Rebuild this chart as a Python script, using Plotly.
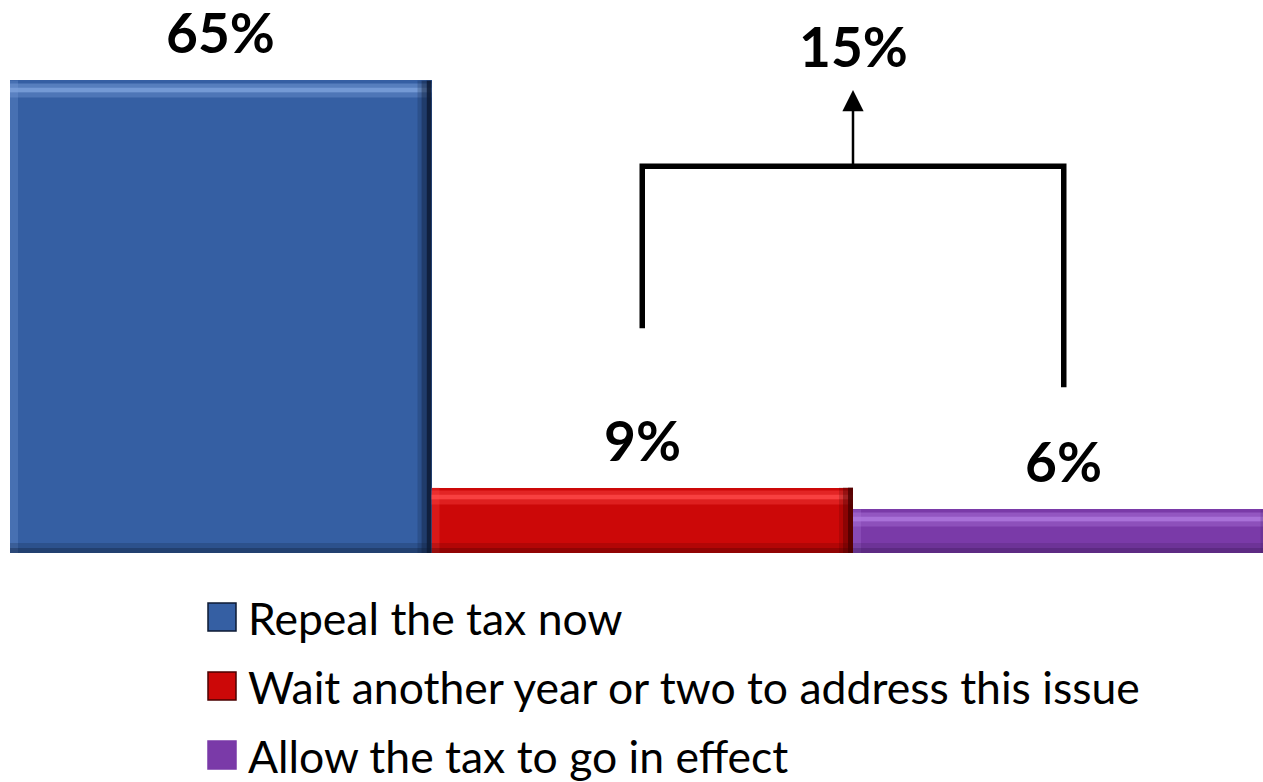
import plotly.graph_objects as go

# ---- data ----
categories = ["Repeal the tax now",
              "Wait another year or two to address this issue",
              "Allow the tax to go in effect"]
values = [65, 9, 6]
value_labels = ["65%", "9%", "6%"]
combined_label = "15%"
colors = ["#355FA3", "#CC0808", "#7A3AA8"]
light_colors = ["#7FA4DE", "#FF4A4A", "#B27BE0"]
dark_colors = ["#0C1A33", "#4A0000", "#3A1856"]

# ---- layout geometry ----
W, H = 1263, 782
ML, MR, MT, MB = 10, 0, 0, 229
PW, PH = W - ML - MR, H - MT - MB
X_RANGE = [-0.5, -0.5 + PW / 421.5]
Y_RANGE = [0, PH / 7.27]

def paper_x(px):
    return (px - ML) / PW

def paper_y(py):
    return (H - MB - py) / PH

fig = go.Figure()
fig.add_trace(go.Bar(
    x=list(range(len(values))), y=values, width=1,
    marker=dict(color=colors, line=dict(width=0)),
    showlegend=False, hoverinfo="skip"))

# bracket grouping bars 2 and 3
BR_LEFT_Y, BR_TOP_Y, BR_RIGHT_Y = 30.9, 53.2, 22.8
ARROW_TIP_Y, COMBINED_Y = 63.7, 69.7
fig.add_shape(type="path", xref="x", yref="y",
              path=f"M 1,{BR_LEFT_Y} L 1,{BR_TOP_Y} L 2,{BR_TOP_Y} L 2,{BR_RIGHT_Y}",
              line=dict(color="black", width=5.5), layer="above")
fig.add_annotation(x=1.5, y=ARROW_TIP_Y, ax=1.5, ay=BR_TOP_Y, xref="x", yref="y",
                   axref="x", ayref="y", showarrow=True, arrowhead=2,
                   arrowsize=1.7, arrowwidth=2.5, arrowcolor="black", text="")
fig.add_annotation(x=1.5, y=COMBINED_Y, xref="x", yref="y", text=combined_label,
                   showarrow=False, yanchor="middle",
                   font=dict(family="Lato", size=55, color="black", weight="bold"))

# value labels + bevel effect
for i, (v, lab) in enumerate(zip(values, value_labels)):
    fig.add_annotation(x=i, y=v, xref="x", yref="y", text=lab, showarrow=False,
                       yanchor="middle", yshift=48,
                       font=dict(family="Lato", size=55, color="black", weight="bold"))
    # top highlight bands
    for y0, y1, op in [(-3, -7, 0.45), (-7, -12, 0.85), (-12, -17, 0.35)]:
        fig.add_shape(type="rect", xref="x", yref="y", x0=i - 0.5, x1=i + 0.5,
                      ysizemode="pixel", yanchor=v, y0=y0, y1=y1,
                      fillcolor=light_colors[i], opacity=op, line=dict(width=0), layer="above")
    # left light band
    fig.add_shape(type="rect", xref="x", yref="y", xsizemode="pixel", xanchor=i - 0.5,
                  x0=0, x1=8, y0=0, y1=v, fillcolor=light_colors[i], opacity=0.25,
                  line=dict(width=0), layer="above")
    # bottom dark band
    for y0, y1, op in [(0, 5, 0.45), (5, 10, 0.2)]:
        fig.add_shape(type="rect", xref="x", yref="y", x0=i - 0.5, x1=i + 0.5,
                      ysizemode="pixel", yanchor=0, y0=y0, y1=y1,
                      fillcolor=dark_colors[i], opacity=op, line=dict(width=0), layer="above")
    # right dark band
    for x0, x1, op in [(-14, -10, 0.2), (-10, -5, 0.5), (-5, 0, 0.9)]:
        fig.add_shape(type="rect", xref="x", yref="y", xsizemode="pixel", xanchor=i + 0.5,
                      x0=x0, x1=x1, y0=0, y1=v, fillcolor=dark_colors[i], opacity=op,
                      line=dict(width=0), layer="above")

# custom legend
LEG_SQ_X0, LEG_SQ = 208, 28
LEG_TEXT_X = 246
LEG_Y0, LEG_DY = 617, 69
for i, name in enumerate(categories):
    cy = LEG_Y0 + i * LEG_DY
    fig.add_shape(type="rect", xref="paper", yref="paper",
                  x0=paper_x(LEG_SQ_X0), x1=paper_x(LEG_SQ_X0 + LEG_SQ),
                  y0=paper_y(cy + LEG_SQ / 2), y1=paper_y(cy - LEG_SQ / 2),
                  fillcolor=colors[i],
                  line=dict(width=1.5, color=dark_colors[i] if i < 2 else colors[i]))
    fig.add_annotation(x=paper_x(LEG_TEXT_X), y=paper_y(cy), xref="paper", yref="paper",
                       text=name, showarrow=False, xanchor="left", yanchor="middle",
                       font=dict(family="Lato", size=44.5, color="black"))

fig.update_layout(
    width=W, height=H,
    margin=dict(l=ML, r=MR, t=MT, b=MB),
    paper_bgcolor="white", plot_bgcolor="white",
    bargap=0, showlegend=False,
    xaxis=dict(range=X_RANGE, visible=False, fixedrange=True),
    yaxis=dict(range=Y_RANGE, visible=False, fixedrange=True),
)

fig.write_html("out.html")
